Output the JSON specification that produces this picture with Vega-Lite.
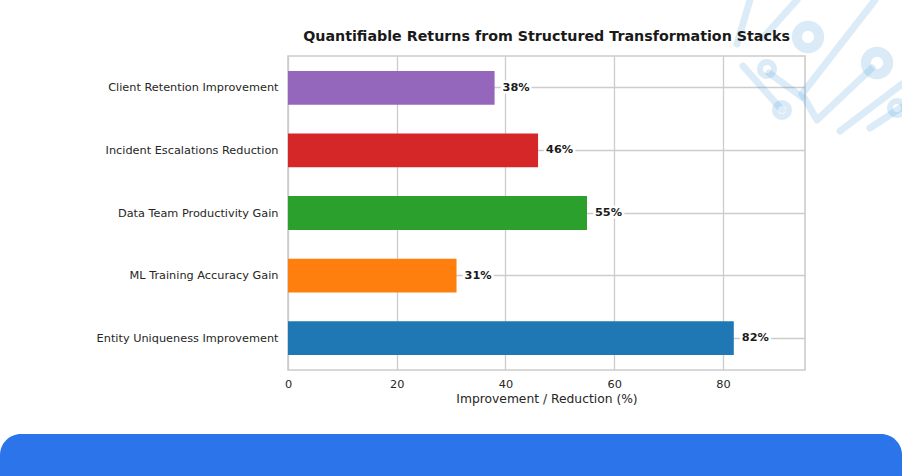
{
  "$schema": "https://vega.github.io/schema/vega-lite/v6.json",
  "width": 517,
  "height": 314,
  "autosize": "none",
  "padding": {"left": 288, "top": 56, "right": 97, "bottom": 106},
  "background": "white",
  "config": {
    "font": "DejaVu Sans",
    "view": {"stroke": "#cccccc", "strokeWidth": 1.6},
    "axis": {"domain": false, "ticks": false, "gridColor": "#cccccc", "gridWidth": 1.3, "labelColor": "#262626", "titleColor": "#262626", "labelFontSize": 11.3, "titleFontSize": 12.3, "titleFontWeight": "normal"}
  },
  "title": {"text": "Quantifiable Returns from Structured Transformation Stacks", "fontSize": 14.25, "fontWeight": "bold", "color": "#1a1a1a", "anchor": "middle", "offset": -48},
  "datasets": {
    "returns": [
      {"metric": "Client Retention Improvement", "value": 38, "label": "38%"},
      {"metric": "Incident Escalations Reduction", "value": 46, "label": "46%"},
      {"metric": "Data Team Productivity Gain", "value": 55, "label": "55%"},
      {"metric": "ML Training Accuracy Gain", "value": 31, "label": "31%"},
      {"metric": "Entity Uniqueness Improvement", "value": 82, "label": "82%"}
    ],
    "band": [{"x": 0, "x2": 902, "y": 434, "y2": 476}],
    "traces": [
      {"id": "a", "x": 750, "y": 0},
      {"id": "a", "x": 737, "y": 44},
      {"id": "b", "x": 797, "y": 0},
      {"id": "b", "x": 763, "y": 38},
      {"id": "c", "x": 875, "y": 0},
      {"id": "c", "x": 802, "y": 94},
      {"id": "c", "x": 817, "y": 120},
      {"id": "c", "x": 872, "y": 68},
      {"id": "d", "x": 769, "y": 73},
      {"id": "d", "x": 802, "y": 97},
      {"id": "e", "x": 743, "y": 66},
      {"id": "e", "x": 782, "y": 110},
      {"id": "f", "x": 840, "y": 131},
      {"id": "f", "x": 902, "y": 84},
      {"id": "g", "x": 870, "y": 128},
      {"id": "g", "x": 902, "y": 107}
    ],
    "rings": [
      {"x": 808, "y": 37, "kind": "large"},
      {"x": 877, "y": 63, "kind": "large"},
      {"x": 767, "y": 69, "kind": "small"},
      {"x": 782, "y": 110, "kind": "small"},
      {"x": 897, "y": 108, "kind": "small"}
    ]
  },
  "layer": [
    {
      "data": {"name": "band"},
      "mark": {"type": "rect", "color": "#2b74ea", "cornerRadiusTopLeft": 28, "cornerRadiusTopRight": 28},
      "encoding": {
        "x": {"field": "x", "type": "quantitative", "axis": null, "scale": {"domain": [288, 805], "nice": false, "zero": false}},
        "x2": {"field": "x2"},
        "y": {"field": "y", "type": "quantitative", "axis": null, "scale": {"domain": [370, 56], "nice": false, "zero": false}},
        "y2": {"field": "y2"}
      }
    },
    {
      "data": {"name": "returns"},
      "encoding": {
        "y": {
          "field": "metric",
          "type": "nominal",
          "sort": null,
          "title": null,
          "scale": {"paddingInner": 0.46, "paddingOuter": 0.24},
          "axis": {"grid": true, "labelPadding": 10, "labelLimit": 260, "labelOffset": 0.5}
        }
      },
      "layer": [
        {
          "mark": {"type": "bar"},
          "encoding": {
            "x": {
              "field": "value",
              "type": "quantitative",
              "title": "Improvement / Reduction (%)",
              "scale": {"domain": [0, 95.1], "nice": false},
              "axis": {"grid": true, "values": [0, 20, 40, 60, 80], "labelPadding": 8, "titlePadding": 3, "labelFlush": false}
            },
            "color": {
              "field": "metric",
              "type": "nominal",
              "sort": null,
              "legend": null,
              "scale": {"range": ["#9467bd", "#d62728", "#2ca02c", "#ff7f0e", "#1f77b4"]}
            }
          }
        },
        {
          "mark": {"type": "text", "align": "left", "dx": 8, "fontSize": 11.3, "fontWeight": "bold", "stroke": "white", "strokeWidth": 5},
          "encoding": {
            "x": {"field": "value", "type": "quantitative"},
            "text": {"field": "label"}
          }
        },
        {
          "mark": {"type": "text", "align": "left", "dx": 8, "fontSize": 11.3, "fontWeight": "bold", "color": "#1a1a1a"},
          "encoding": {
            "x": {"field": "value", "type": "quantitative"},
            "text": {"field": "label"}
          }
        }
      ]
    },
    {
      "layer": [
        {
          "data": {"name": "traces"},
          "mark": {"type": "line", "color": "#4a9fdc", "opacity": 0.2, "strokeWidth": 7, "strokeCap": "round", "strokeJoin": "round"},
          "encoding": {
            "x": {"field": "x", "type": "quantitative", "axis": null, "scale": {"domain": [288, 805], "nice": false, "zero": false}},
            "y": {"field": "y", "type": "quantitative", "axis": null, "scale": {"domain": [370, 56], "nice": false, "zero": false}},
            "detail": {"field": "id"},
            "order": {"field": "none"}
          }
        },
        {
          "data": {"name": "rings"},
          "transform": [{"filter": "datum.kind === 'large'"}],
          "mark": {"type": "point", "filled": false, "color": "#4a9fdc", "opacity": 0.2, "strokeWidth": 10, "size": 500},
          "encoding": {
            "x": {"field": "x", "type": "quantitative", "axis": null, "scale": {"domain": [288, 805], "nice": false, "zero": false}},
            "y": {"field": "y", "type": "quantitative", "axis": null, "scale": {"domain": [370, 56], "nice": false, "zero": false}}
          }
        },
        {
          "data": {"name": "rings"},
          "transform": [{"filter": "datum.kind === 'small'"}],
          "mark": {"type": "point", "filled": false, "color": "#4a9fdc", "opacity": 0.2, "strokeWidth": 6, "size": 200},
          "encoding": {
            "x": {"field": "x", "type": "quantitative", "axis": null, "scale": {"domain": [288, 805], "nice": false, "zero": false}},
            "y": {"field": "y", "type": "quantitative", "axis": null, "scale": {"domain": [370, 56], "nice": false, "zero": false}}
          }
        }
      ]
    }
  ],
  "resolve": {"scale": {"x": "independent", "y": "independent", "color": "independent"}}
}
